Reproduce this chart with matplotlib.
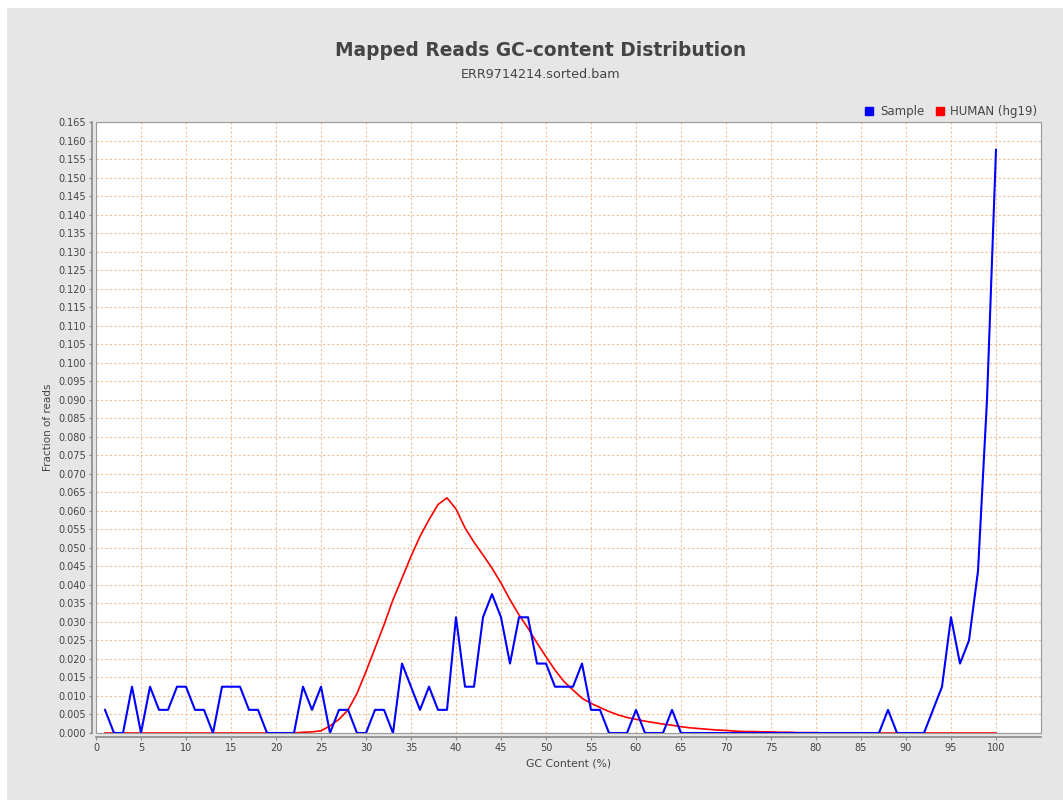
import matplotlib
matplotlib.use("Agg")
import matplotlib.pyplot as plt
from matplotlib.patches import Rectangle
from matplotlib.lines import Line2D
from matplotlib.ticker import MultipleLocator, FormatStrFormatter

plt.rcParams['font.family'] = ['DejaVu Sans']

# GC content bins (%)
gc = list(range(1, 101))

# fraction of mapped reads per GC bin
sample = [
    0.00625, 0, 0, 0.0125, 0, 0.0125, 0.00625, 0.00625, 0.0125, 0.0125,
    0.00625, 0.00625, 0, 0.0125, 0.0125, 0.0125, 0.00625, 0.00625, 0, 0,
    0, 0, 0.0125, 0.00625, 0.0125, 0, 0.00625, 0.00625, 0, 0,
    0.00625, 0.00625, 0, 0.01875, 0.0125, 0.00625, 0.0125, 0.00625, 0.00625, 0.03125,
    0.0125, 0.0125, 0.03125, 0.0375, 0.03125, 0.01875, 0.03125, 0.03125, 0.01875, 0.01875,
    0.0125, 0.0125, 0.0125, 0.01875, 0.00625, 0.00625, 0, 0, 0, 0.00625,
    0, 0, 0, 0.00625, 0, 0, 0, 0, 0, 0,
    0, 0, 0, 0, 0, 0, 0, 0, 0, 0,
    0, 0, 0, 0, 0, 0, 0, 0.00625, 0, 0,
    0, 0, 0.00625, 0.0125, 0.03125, 0.01875, 0.025, 0.04375, 0.09, 0.1575,
]

# reference genome distribution
human = [
    0, 0, 0, 0, 0, 0, 0, 0, 0, 0,
    0, 0, 0, 0, 0, 0, 0, 0, 0, 0,
    0, 0, 0.0002, 0.0003, 0.0006, 0.0019, 0.0037, 0.0062, 0.0107, 0.0166,
    0.0229, 0.0292, 0.036, 0.0418, 0.0477, 0.0531, 0.0576, 0.0617, 0.0635, 0.0605,
    0.0554, 0.0515, 0.0481, 0.0445, 0.0405, 0.036, 0.0319, 0.0283, 0.0243, 0.0206,
    0.017, 0.0139, 0.0116, 0.0094, 0.008, 0.0069, 0.0058, 0.0049, 0.0042, 0.0037,
    0.0032, 0.0028, 0.0024, 0.0021, 0.0017, 0.0014, 0.0012, 0.001, 0.0008, 0.0007,
    0.0005, 0.0004, 0.0004, 0.0003, 0.0003, 0.0002, 0.0002, 0.0001, 0.0001, 0.0001,
    0, 0, 0, 0, 0, 0, 0, 0, 0, 0,
    0, 0, 0, 0, 0, 0, 0, 0, 0, 0,
]

txt = '#444444'
W, H = 1063, 805
fig = plt.figure(figsize=(W / 100, H / 100), dpi=100)
fig.patch.set_facecolor('white')
fig.add_artist(Rectangle((7 / W, 5 / H), (W - 7) / W, (H - 13) / H,
                         transform=fig.transFigure, facecolor='#e6e6e6',
                         edgecolor='none', zorder=-10))

ax = fig.add_axes([96 / W, (H - 733) / H, (1041 - 96) / W, (733 - 122) / H])
ax.set_facecolor('white')

ax.plot(gc, sample, color='#0000ff', lw=1.5, zorder=3)
ax.plot(gc, human, color='#ff0000', lw=1.2, zorder=2)

ax.set_xlim(0, 105)
ax.set_ylim(0, 0.165)
ax.yaxis.set_major_locator(MultipleLocator(0.005))
ax.yaxis.set_major_formatter(FormatStrFormatter('%.3f'))
ax.set_xticks(range(0, 101, 5))

ax.grid(True, color='#f0bf94', ls=(0, (2, 2)), lw=0.8)
ax.set_axisbelow(True)

# plot outline plus offset axis lines
for s in ('top', 'right'):
    ax.spines[s].set_visible(False)
for s in ('left', 'bottom'):
    ax.spines[s].set_position(('outward', 3))
    ax.spines[s].set_color('#8a8a8a')
    ax.spines[s].set_linewidth(1.2)
ax.add_patch(Rectangle((0, 0), 1, 1, transform=ax.transAxes, fill=False,
                       edgecolor='#9a9a9a', lw=0.8, clip_on=False, zorder=5))

ax.tick_params(direction='out', length=2, width=0.8, color='#8a8a8a',
               labelsize=7, labelcolor=txt, pad=2)

ax.set_xlabel('GC Content (%)', fontsize=7.8, color=txt, labelpad=4)
ax.set_ylabel('Fraction of reads', fontsize=7.5, color=txt, labelpad=4)

fig.text(541 / W, 1 - 51 / H, 'Mapped Reads GC-content Distribution',
         ha='center', va='center', fontsize=13.4, fontweight='bold', color=txt)
fig.text(541 / W, 1 - 75 / H, 'ERR9714214.sorted.bam',
         ha='center', va='center', fontsize=9.2, color=txt)

handles = [Line2D([], [], ls='none', marker='s', ms=5.5, color='#0000ff'),
           Line2D([], [], ls='none', marker='s', ms=5.5, color='#ff0000')]
leg = ax.legend(handles, ['Sample', 'HUMAN (hg19)'], loc='lower right',
                bbox_to_anchor=(1.0, 1.0), ncol=2, frameon=False,
                fontsize=8.5, handlelength=0.8, handletextpad=0.5,
                columnspacing=0.9, borderaxespad=0.1, borderpad=0.2)
for t in leg.get_texts():
    t.set_color(txt)

fig.savefig('out.png', dpi=100)
